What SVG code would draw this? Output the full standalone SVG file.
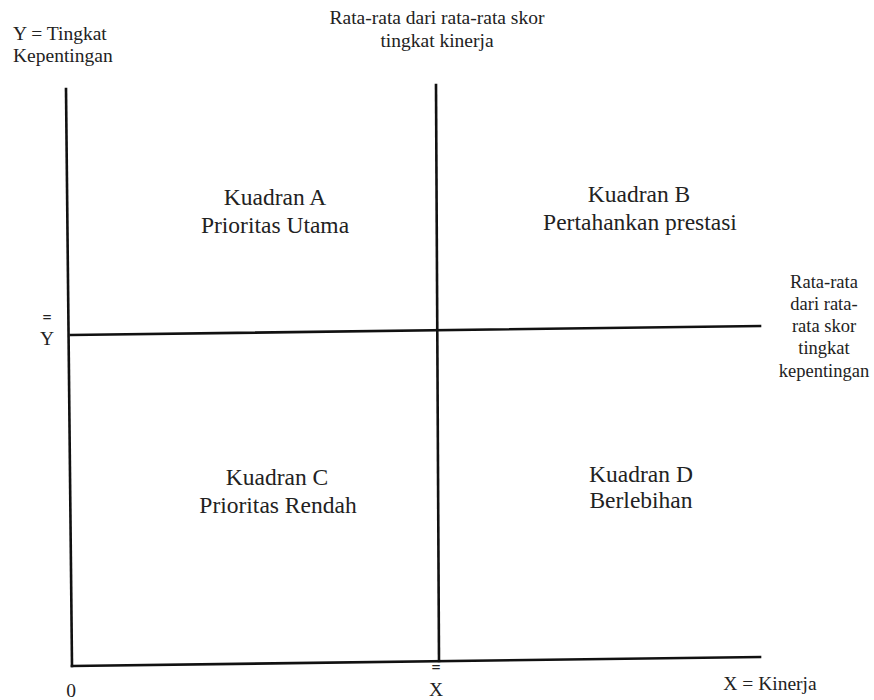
<svg xmlns="http://www.w3.org/2000/svg" width="874" height="700" viewBox="0 0 874 700">
<style>
text{font-family:"Liberation Serif","Times New Roman",serif;fill:#222}
.s{font-size:19.5px}
.e{font-size:16px;font-weight:bold;text-anchor:middle}
.q{font-size:23.5px;text-anchor:middle}
.r{font-size:18.5px;text-anchor:middle}
.ax{stroke:#111;stroke-width:2.6;fill:none;stroke-linecap:square}
</style>
<rect width="874" height="700" fill="#fff"/>
<g id="connectors">
<line class="ax" x1="66" y1="89" x2="72" y2="666"/>
<line class="ax" x1="72" y1="666" x2="760" y2="657"/>
<line class="ax" x1="436" y1="85" x2="439" y2="661"/>
<line class="ax" x1="71" y1="335" x2="760" y2="326"/>
</g>
<g id="ylabel"><text class="s" x="13" y="40">Y = Tingkat</text><text class="s" x="13" y="62">Kepentingan</text></g>
<g id="toplabel"><text class="s" x="437" y="24" text-anchor="middle">Rata-rata dari rata-rata skor</text><text class="s" x="437" y="47" text-anchor="middle">tingkat kinerja</text></g>
<g id="kuadranA"><text class="q" x="275" y="205">Kuadran A</text><text class="q" x="275" y="233">Prioritas Utama</text></g>
<g id="kuadranB"><text class="q" x="639" y="202">Kuadran B</text><text class="q" x="640" y="230">Pertahankan prestasi</text></g>
<g id="kuadranC"><text class="q" x="277" y="485">Kuadran C</text><text class="q" x="278" y="513">Prioritas Rendah</text></g>
<g id="kuadranD"><text class="q" x="641" y="482">Kuadran D</text><text class="q" x="641" y="508">Berlebihan</text></g>
<g id="rightlabel"><text class="r" x="824" y="288">Rata-rata</text><text class="r" x="824" y="310">dari rata-</text><text class="r" x="824" y="332">rata skor</text><text class="r" x="824" y="354">tingkat</text><text class="r" x="824" y="377">kepentingan</text></g>
<g id="ybar"><text class="e" x="47" y="323">=</text><text class="s" x="47" y="345" text-anchor="middle">Y</text></g>
<g id="xbar"><text class="e" x="436" y="673">=</text><text class="s" x="436" y="696" text-anchor="middle">X</text></g>
<g id="origin"><text class="s" x="71" y="697" text-anchor="middle">0</text></g>
<g id="xlabel"><text class="s" x="770" y="690" text-anchor="middle">X = Kinerja</text></g>
</svg>
